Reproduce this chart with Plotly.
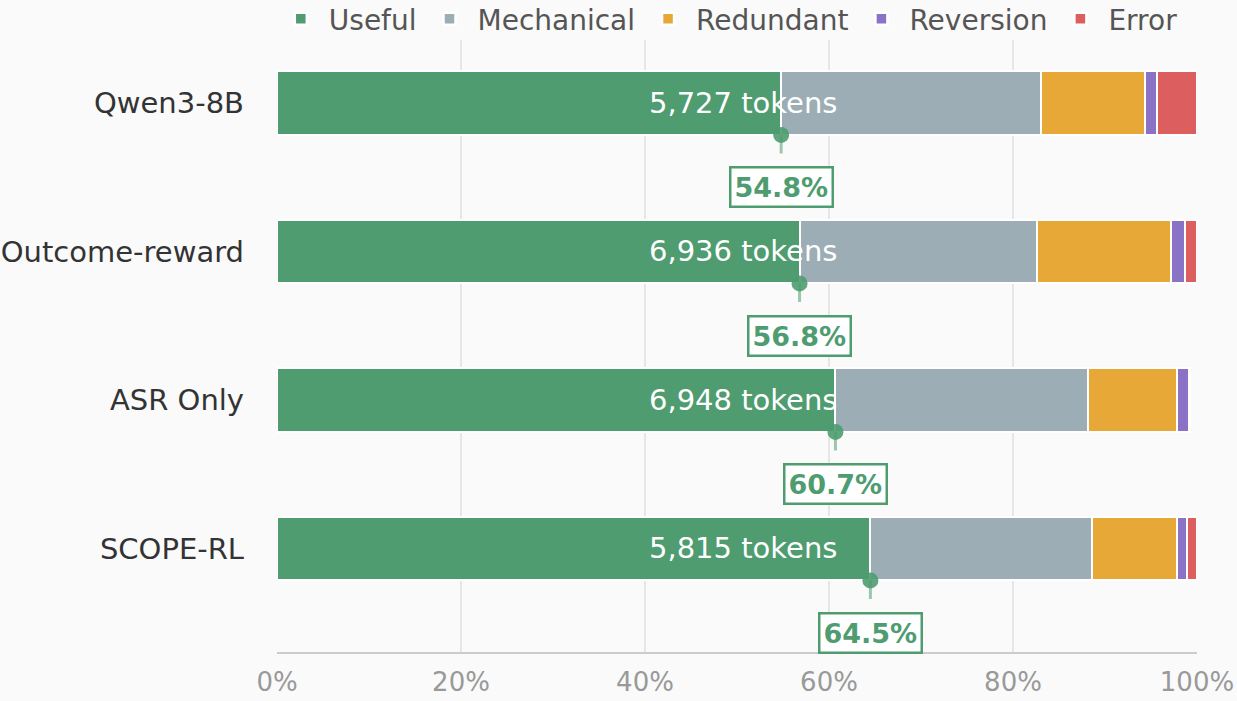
import plotly.graph_objects as go

categories = ["Qwen3-8B", "Outcome-reward", "ASR Only", "SCOPE-RL"]
useful = [54.8, 56.8, 60.7, 64.5]
mechanical = [28.2, 25.8, 27.5, 24.1]
redundant = [11.3, 14.6, 9.6, 9.2]
reversion = [1.4, 1.5, 1.3, 1.1]
error = [4.3, 1.3, 0.1, 1.1]
tokens = ["5,727 tokens", "6,936 tokens", "6,948 tokens", "5,815 tokens"]
useful_labels = ["54.8%", "56.8%", "60.7%", "64.5%"]

series = [
    ("Useful", useful, "#4e9c6f"),
    ("Mechanical", mechanical, "#9cadb6"),
    ("Redundant", redundant, "#e8a838"),
    ("Reversion", reversion, "#8a72c6"),
    ("Error", error, "#dc5e5e"),
]

FONT = "DejaVu Sans"
GREEN = "#4e9c6f"
n = len(categories)
ypos = [n - 1 - i for i in range(n)]
BAR_W = 0.43

fig = go.Figure()
for name, vals, color in series:
    fig.add_trace(go.Bar(
        name=name, y=ypos, x=vals, orientation="h", width=BAR_W,
        marker=dict(color=color, line=dict(color="white", width=2.5)),
        hoverinfo="x+name",
    ))

# dot with short stem below each bar at useful share
fig.add_trace(go.Scatter(
    x=useful, y=[p - BAR_W / 2 for p in ypos], mode="markers",
    marker=dict(color=GREEN, size=16, opacity=0.9),
    error_y=dict(type="data", symmetric=False, array=[0] * n,
                 arrayminus=[0.125] * n, color="rgba(78,156,111,0.55)",
                 thickness=3, width=0),
    showlegend=False, hoverinfo="skip",
))

annotations = []
for i, p in enumerate(ypos):
    annotations.append(dict(
        x=50.6, y=p, text=tokens[i], showarrow=False, xanchor="center",
        yanchor="middle", font=dict(family=FONT, size=29, color="white"),
    ))
    annotations.append(dict(
        x=useful[i], y=p - 0.566, text="<b>" + useful_labels[i] + "</b>",
        showarrow=False, xanchor="center", yanchor="middle",
        font=dict(family=FONT, size=27, color=GREEN),
        bgcolor="white", bordercolor=GREEN, borderwidth=2.5, borderpad=3,
    ))

fig.update_layout(
    barmode="stack",
    width=1237, height=701,
    margin=dict(l=277, r=40, t=40, b=49, autoexpand=False),
    paper_bgcolor="#fafafa", plot_bgcolor="#fafafa",
    font=dict(family=FONT, size=29, color="#333333"),
    bargap=0,
    legend=dict(orientation="h", traceorder="normal", x=0.49, xanchor="center",
                y=1.075, yanchor="top", itemwidth=46,
                font=dict(family=FONT, size=28, color="#555555"),
                bgcolor="rgba(0,0,0,0)", itemclick=False),
    annotations=annotations,
    xaxis=dict(range=[0, 100], tickvals=[0, 20, 40, 60, 80, 100],
               ticktext=["0%", "20%", "40%", "60%", "80%", "100%"],
               showgrid=True, gridcolor="#e6e6e6", gridwidth=2,
               showline=True, linecolor="#cccccc", linewidth=2,
               zeroline=False, ticks="", ticklabelstandoff=6,
               tickfont=dict(family=FONT, size=26, color="#999999")),
    yaxis=dict(range=[-0.697, 3.424], tickvals=ypos, ticktext=categories,
               showgrid=False, zeroline=False, showline=False, ticks="",
               ticklabelstandoff=32,
               tickfont=dict(family=FONT, size=29, color="#333333")),
)

fig.write_html("out.html")
